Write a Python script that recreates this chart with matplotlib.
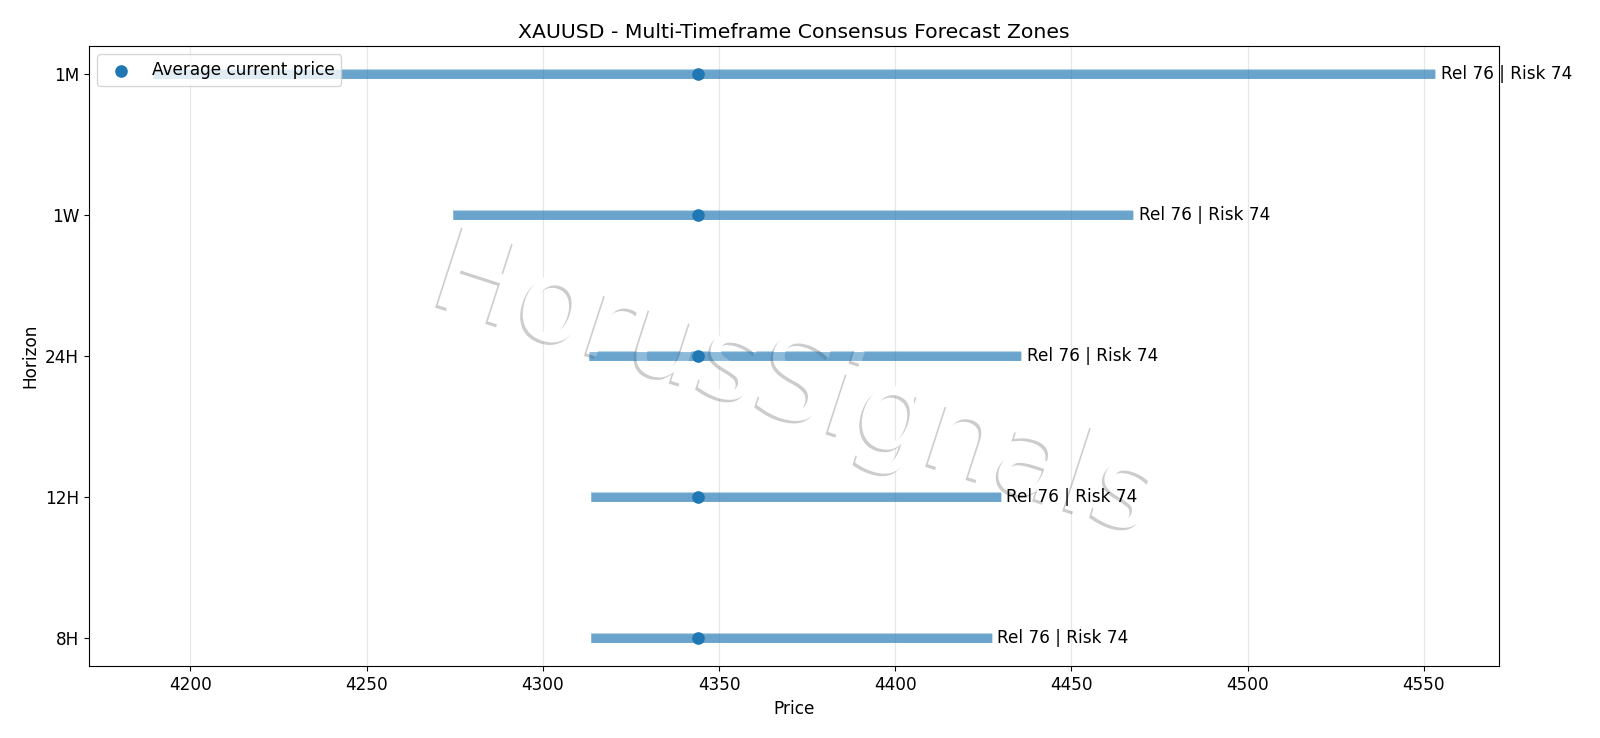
import matplotlib
matplotlib.use("Agg")
import matplotlib.pyplot as plt
import matplotlib.patheffects as pe

# forecast zones per horizon (bottom to top)
horizons = ["8H", "12H", "24H", "1W", "1M"]
zone_low = [4313.8, 4313.8, 4313.2, 4274.4, 4189.4]
zone_high = [4427.4, 4430.0, 4435.8, 4467.6, 4553.2]
current_price = [4344.1, 4344.1, 4344.1, 4344.1, 4344.1]
reliability = [76, 76, 76, 76, 76]
risk = [74, 74, 74, 74, 74]

FS = 12.2

fig, ax = plt.subplots(figsize=(16, 7.38), dpi=100)
fig.subplots_adjust(left=0.0556, right=0.937, top=0.9377, bottom=0.0969)

y = list(range(len(horizons)))
# zone bars: a faint layer under the watermark, the rest above it
ax.hlines(y, zone_low, zone_high, colors="C0", linewidth=7.2, alpha=0.32, zorder=2)
ax.hlines(y, zone_low, zone_high, colors="C0", linewidth=6.4, alpha=0.5, zorder=4)
ax.scatter(current_price, y, color="C0", s=65, zorder=5, label="Average current price")

for yi, hi, rel, rk in zip(y, zone_high, reliability, risk):
    ax.annotate(f"Rel {rel} | Risk {rk}", (hi, yi), xytext=(4, 0), textcoords="offset points",
                va="center", ha="left", fontsize=FS, annotation_clip=False, zorder=6)

ax.set_yticks(y)
ax.set_yticklabels(horizons)
ax.tick_params(labelsize=FS)
ax.set_xlabel("Price", fontsize=FS)
ax.set_ylabel("Horizon", fontsize=FS)
ax.set_title("XAUUSD - Multi-Timeframe Consensus Forecast Zones", fontsize=14.7)
ax.grid(axis="x", alpha=0.3)
ax.legend(loc="upper left", fontsize=FS)

# watermark
ax.text(0.5, 0.45, "HorusSignals", transform=ax.transAxes, fontsize=83, color="white",
        rotation=-18, ha="center", va="center", zorder=3,
        path_effects=[pe.withSimplePatchShadow(offset=(-1.8, -1.8), shadow_rgbFace="#808080", alpha=0.4)])

fig.savefig("out.png", dpi=100)
